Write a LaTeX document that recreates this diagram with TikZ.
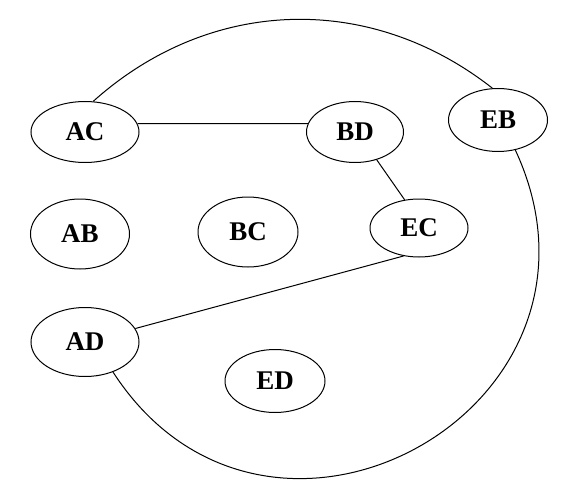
\documentclass[tikz,border=0pt]{standalone}
\usepackage{fontspec}
\setmainfont{Liberation Serif}
\usepackage{tikz}
\usetikzlibrary{shapes.geometric}

\begin{document}
\begin{tikzpicture}[x=1pt, y=1pt, line width=1pt,
    vtx/.style={draw, ellipse, inner sep=0pt, minimum width=100pt, minimum height=64pt,
      font=\fontsize{27}{30}\selectfont\bfseries}]
    \useasboundingbox (0,0) rectangle (577,496);
    \node[vtx, minimum width=108pt, minimum height=61pt] (AC) at (85,364) {AC};
    \node[vtx, minimum width=97pt, minimum height=61pt] (BD) at (355,364) {BD};
    \node[vtx, minimum width=99pt, minimum height=63pt] (EB) at (498,376) {EB};
    \node[vtx, minimum width=99pt, minimum height=70pt] (AB) at (80,262) {AB};
    \node[vtx, minimum height=70pt] (BC) at (248,264) {BC};
    \node[vtx, minimum width=98pt, minimum height=58pt] (EC) at (419,268) {EC};
    \node[vtx, minimum width=108pt, minimum height=69pt] (AD) at (85,154) {AD};
    \node[vtx, minimum height=63pt] (ED) at (275,115) {ED};
    \draw (AC.9) -- (BD.170);
    \draw (BD.-52) -- (EC.117);
    \draw (EC.-119) -- (AD.15);
    \draw (AC.75) to[bend left=40] (EB.100);
    \draw (EB.-60) to[bend left=86, looseness=1.59] (AD.-47);
\end{tikzpicture}
\end{document}
